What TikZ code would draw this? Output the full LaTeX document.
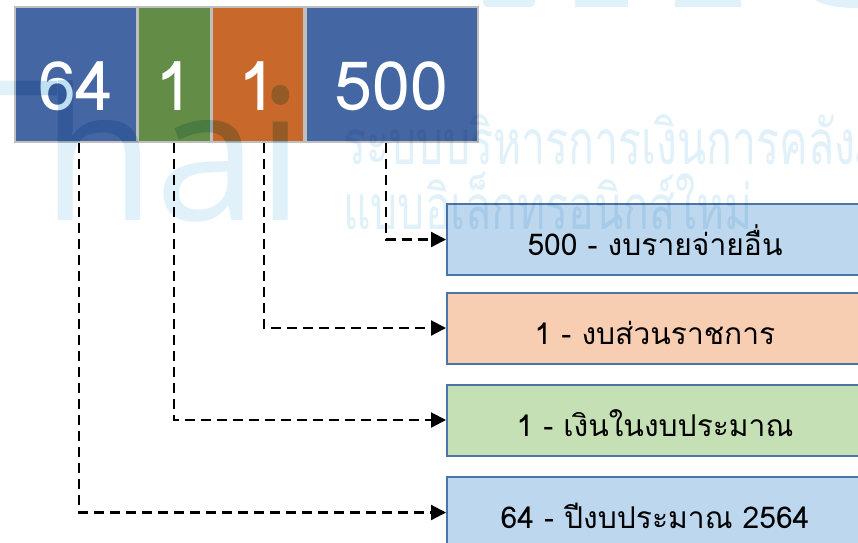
\documentclass[tikz,border=0pt]{standalone}
\usepackage{fontspec}
\usetikzlibrary{arrows.meta}
\newfontfamily\thaifont[Script=Thai]{Loma}
\newfontfamily\wmfont{Open Sans}
\definecolor{topblue}{RGB}{68,102,162}
\definecolor{topgreen}{RGB}{99,141,70}
\definecolor{toporange}{RGB}{200,104,42}
\definecolor{bordergray}{RGB}{191,191,191}
\definecolor{lblue}{RGB}{189,215,238}
\definecolor{lpeach}{RGB}{248,206,178}
\definecolor{lgreen}{RGB}{197,224,180}
\definecolor{boxedge}{RGB}{76,116,166}
\definecolor{wmblue}{RGB}{225,241,250}
\definecolor{wmdark}{RGB}{217,237,247}
\begin{document}
\begin{tikzpicture}[x=1pt,y=-1pt,
  topbox/.style={rectangle, draw=bordergray, line width=2pt, inner sep=0pt,
    text=white, font=\thaifont\fontsize{68}{68}\selectfont,
    text height=71pt, text depth=0pt, minimum height=135pt},
  labelbox/.style={rectangle, draw=boxedge, line width=2pt, inner sep=0pt,
    minimum width=416pt, minimum height=71pt, text=black,
    font=\thaifont\fontsize{30}{30}\selectfont, text height=32pt, text depth=0pt},
  conn/.style={draw=black, line width=2.2pt, dash pattern=on 10pt off 6pt,
    -{Triangle[length=15pt,width=15pt]}},
  wm/.style={inner sep=0pt, anchor=base west, text=wmblue},
  wmlogo/.style={wm, font=\wmfont\fontsize{184}{184}\selectfont},
  wmthai/.style={wm, font=\thaifont\fontsize{62}{62}\selectfont}]
\useasboundingbox (0,0) rectangle (858,542);
\clip (0,0) rectangle (858,542);
\fill[white] (0,0) rectangle (858,542);

% top code boxes
\node[topbox, fill=topblue, minimum width=122pt] (b64) at (76,74.5) {64};
\node[topbox, fill=topgreen, minimum width=73pt] (g1) at (174,74.5) {1};
\node[topbox, fill=toporange, minimum width=92pt] (o1) at (257.5,74.5) {1};
\node[topbox, fill=topblue, minimum width=172pt] (b500) at (391.5,74.5) {500};

% meaning boxes
\node[labelbox, fill=lblue] (r1) at (655,239.5) {500 - งบรายจ่ายอื่น};
\node[labelbox, fill=lpeach] (r2) at (655,328) {1 - งบส่วนราชการ};
\node[labelbox, fill=lgreen] (r3) at (655,420) {1 - เงินในงบประมาณ};
\node[labelbox, fill=lblue] (r4) at (655,512.5) {64 - ปีงบประมาณ 2564};

% connector columns
\coordinate (k64) at (79,0);
\coordinate (kg) at (174,0);
\coordinate (ko) at (264,0);
\coordinate (k500) at (386,0);
\draw[conn] (b500.south -| k500) |- (r1.west);
\draw[conn] (o1.south -| ko) |- (r2.west);
\draw[conn] (g1.south -| kg) |- (r3.west);
\draw[conn] (b64.south -| k64) |- (r4.west);

% watermark
\begin{scope}[blend mode=multiply]
\node[wmlogo] (wthai) at (-93,220) {\scalebox{1.5}[1.06]{T}\kern-17.6pt hai};
\node[wmthai] (wl1) at (343,164) {\scalebox{0.69}[1]{ระบบบริหารการเงินการคลังภาครัฐ}};
\node[wmthai] (wl2) at (343,229) {\scalebox{0.69}[1]{แบบอิเล็กทรอนิกส์ใหม่}};
\fill[wmblue, rounded corners=5pt] (483,-10) rectangle (535,7);
\fill[wmblue] (575,0) rectangle (628,7);
\fill[wmblue] (675,0) rectangle (741,7);
\fill[wmblue] (815,0) .. controls (825,6) and (840,8) .. (858,8) -- (858,0) -- cycle;
\end{scope}
% watermark shows darker where it lies over the coloured code boxes
\begin{scope}[blend mode=multiply]
\clip (16,8) rectangle (477,141);
\node[wmlogo, text=wmdark] (wthaib) at (-93,220) {\scalebox{1.5}[1.06]{T}\kern-17.6pt hai};
\end{scope}
\end{tikzpicture}
\end{document}
